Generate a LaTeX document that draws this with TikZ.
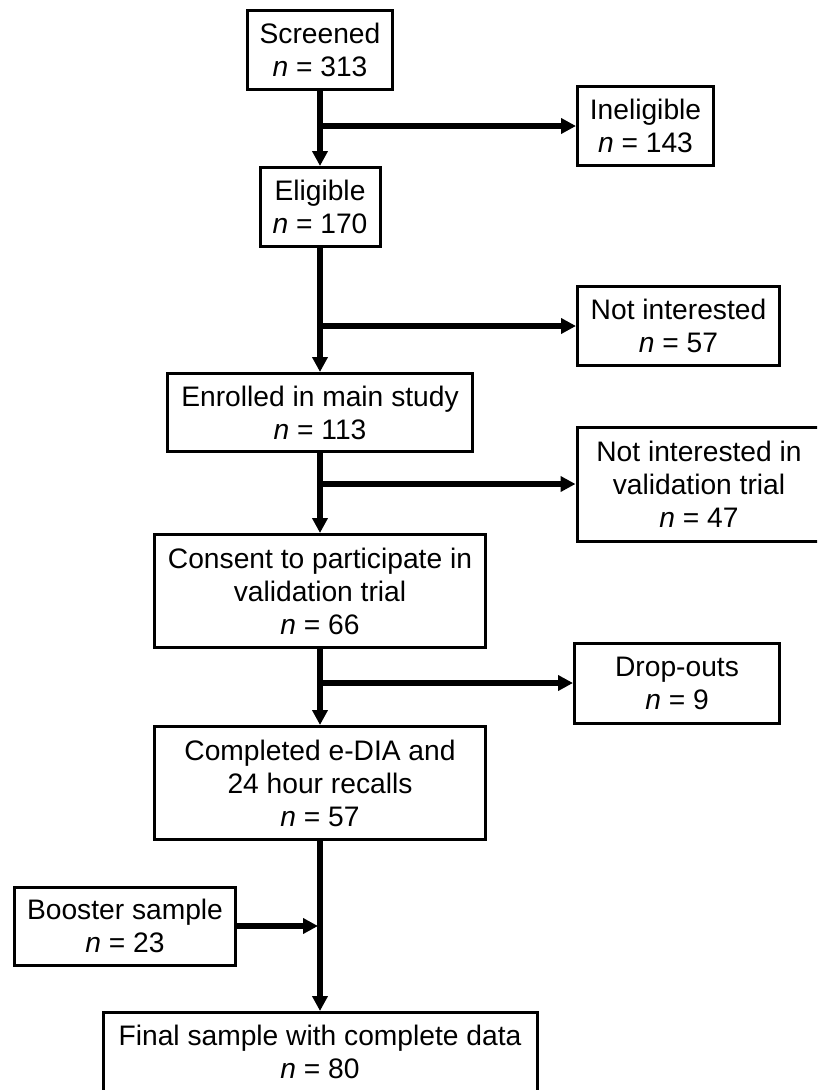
\documentclass[tikz,border=0pt]{standalone}
\usepackage{fontspec}
\setmainfont{Liberation Sans}
\usetikzlibrary{arrows.meta}

\begin{document}
\begin{tikzpicture}[x=1pt,y=-1pt,>={Triangle[length=15pt,width=15pt]},
                    line width=5.5pt,node distance=150pt]
  \tikzstyle{box}=[draw,rectangle,line width=3pt,align=center,inner sep=0pt,
                   font=\fontsize{28.2}{33}\selectfont]
  \tikzstyle{flow}=[->]

  \path[use as bounding box,clip] (0,0) rectangle (817,1090);

  \node[box,minimum width=145pt,minimum height=79pt] (screened) at (320,50)
       {Screened\\\textit{n} = 313};
  \node[box,minimum width=120pt,minimum height=79pt] (eligible)
       [below of=screened,node distance=157pt] {Eligible\\\textit{n} = 170};
  \node[box,minimum width=305pt,minimum height=78pt] (enrolled)
       [below of=eligible,node distance=205.5pt] {Enrolled in main study\\\textit{n} = 113};
  \node[box,minimum width=331pt,minimum height=113pt] (consent)
       [below of=enrolled,node distance=178.5pt]
       {Consent to participate in\\validation trial\\\textit{n} = 66};
  \node[box,minimum width=331pt,minimum height=113pt] (completed)
       [below of=consent,node distance=192pt]
       {Completed e-DIA and\\24 hour recalls\\\textit{n} = 57};
  \node[box,minimum width=434pt,minimum height=79pt] (final)
       [below of=completed,node distance=269pt]
       {Final sample with complete data\\\textit{n} = 80};

  % branch points on the main line
  \coordinate (b1) at (320,126);
  \coordinate (b2) at (320,326);
  \coordinate (b3) at (320,484);
  \coordinate (b4) at (320,683);
  \coordinate (b5) at (318,926);

  \node[box,minimum width=136pt,minimum height=79pt] (inelig)
       [right of=b1,node distance=325.5pt] {Ineligible\\\textit{n} = 143};
  \node[box,minimum width=202pt,minimum height=79pt] (notint)
       [right of=b2,node distance=358.5pt] {Not interested\\\textit{n} = 57};
  \node[box,minimum width=244pt,minimum height=114pt] (notval)
       [right of=b3,node distance=379pt]
       {Not interested in\\validation trial\\\textit{n} = 47};
  \node[box,minimum width=205pt,minimum height=80pt] (dropouts)
       [right of=b4,node distance=357pt] {Drop-outs\\\textit{n} = 9};
  \node[box,minimum width=221pt,minimum height=78pt] (booster)
       [left of=b5,node distance=193pt] {Booster sample\\\textit{n} = 23};

  \draw[flow] (screened) -- (eligible);
  \draw[flow] (eligible) -- (enrolled);
  \draw[flow] (enrolled) -- (consent);
  \draw[flow] (consent) -- (completed);
  \draw[flow] (completed) -- (final);

  \draw[flow] (b1) -- (inelig);
  \draw[flow] (b2) -- (notint);
  \draw[flow] (b3) -- (notval);
  \draw[flow] (b4) -- (dropouts);
  \draw[flow] (booster) -- (b5);
\end{tikzpicture}
\end{document}
